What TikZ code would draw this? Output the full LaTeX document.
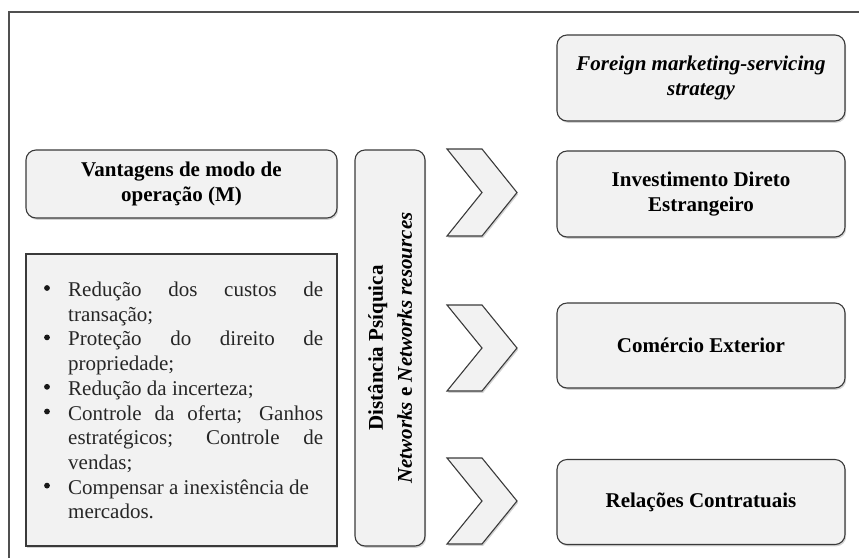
\documentclass[tikz,border=0pt]{standalone}
\usepackage{fontspec}
\setmainfont{Liberation Serif}
\usetikzlibrary{shadows}
\definecolor{boxfill}{HTML}{F2F2F2}
\definecolor{boxline}{HTML}{3A3A3A}
\definecolor{framec}{HTML}{505050}
\begin{document}
\begin{tikzpicture}[x=1pt,y=-1pt,
  boxbase/.style={draw=boxline, line width=1.1pt, fill=boxfill,
    drop shadow={shadow xshift=1.2pt, shadow yshift=-1.8pt, opacity=0.35},
    inner sep=0pt, align=center, font=\fontsize{21}{25}\selectfont\bfseries},
  rbox/.style={boxbase, rounded corners=10pt},
  sbox/.style={boxbase},
  chev/.style={draw=boxline, line width=1.1pt, fill=boxfill, line join=miter,
    drop shadow={shadow xshift=1.2pt, shadow yshift=-1.8pt, opacity=0.35}},
  frameline/.style={draw=framec, line width=1.4pt},
  bulletdot/.style={fill=black!90}
]
\useasboundingbox (0,0) rectangle (859,558);
% outer frame (only top and left visible)
\draw[frameline] (9,558) -- (9,12) -- (859,12);

% right-hand boxes
\node[rbox, minimum width=288pt, minimum height=86pt] (f) at (701,78)
  {\itshape Foreign marketing-servicing\\ \itshape strategy};
\node[rbox, minimum width=288pt, minimum height=86pt] (ide) at (701,194)
  {Investimento Direto\\ Estrangeiro};
\node[rbox, minimum width=288pt, minimum height=85pt] (ce) at (701,345.5)
  {Comércio Exterior};
\node[rbox, minimum width=288pt, minimum height=85pt] (rc) at (701,502)
  {Relações Contratuais};

% chevrons
\foreach \t/\b in {149/236, 305/391, 458/544}{
  \pgfmathsetmacro{\m}{(\t+\b)/2}
  \path[chev] (447,\t) -- (482,\t) -- (517,\m) -- (482,\b) -- (447,\b) -- (482,\m) -- cycle;
}

% left boxes
\node[rbox, minimum width=311pt, minimum height=68pt] (vm) at (181.5,184)
  {Vantagens de modo de\\ operação (M)};
\node[sbox, minimum width=311pt, minimum height=292pt] (lst) at (181.5,400) {};
\node[anchor=north west, inner sep=0pt, align=left, text=black!85]
  (lsttext) at (68,279)
  {\fontsize{21}{24.7}\selectfont
   \begin{tabular}{@{}p{255pt}@{}}
   \makebox[255pt][s]{Redução dos custos de}\\
   transação;\\
   \makebox[255pt][s]{Proteção do direito de}\\
   propriedade;\\
   Redução da incerteza;\\
   \makebox[255pt][s]{Controle da oferta; Ganhos}\\
   \makebox[255pt][s]{estratégicos; Controle de}\\
   vendas;\\
   Compensar a inexistência de\\
   mercados.
   \end{tabular}};
% bullets (rows 0,2,4,5,8 of the list)
\foreach \k in {0,2,4,5,8}{
  \fill[bulletdot] ([shift={(-21pt,{-17.3pt-24.7pt*\k+8.3pt})}]lsttext.north west) circle (2.9pt);
}

% vertical box
\node[rbox, minimum width=70pt, minimum height=396pt] (dp) at (390,348) {};
\node[rotate=90, inner sep=0pt, align=center,
  font=\fontsize{21}{29}\selectfont\bfseries] (dptext) at (dp.center)
  {Distância Psíquica\\ \textit{Networks} e \textit{Networks resources}};
\end{tikzpicture}
\end{document}
